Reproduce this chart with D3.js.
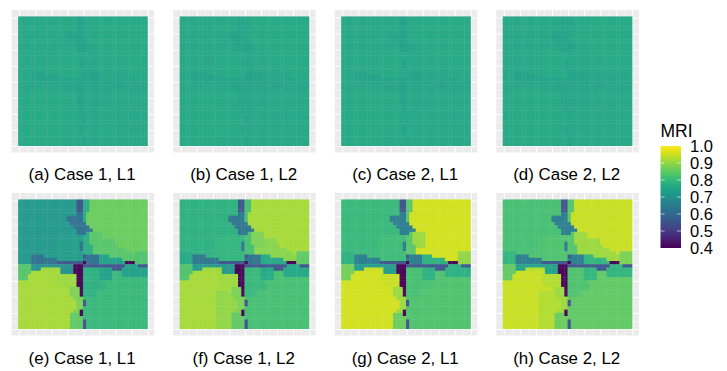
<!DOCTYPE html>
<html><head><meta charset="utf-8">
<script src="https://cdn.jsdelivr.net/npm/d3@7/dist/d3.min.js"></script>
<style>html,body{margin:0;padding:0;background:#fff}svg{display:block}text{font-family:"Liberation Sans",Arial,sans-serif;fill:#000}</style>
</head><body><svg id="c" width="727" height="371"></svg>
<script>
// Region map of the 40x40 grid, row by row (count + region letter).
const regionRows = [
"18T 2B 2G 18R","18T 2B 2G 18R","18T 2B 2G 18R","18T 2B 2G 18R","18T 2C 1G 19R",
"15T 5C 1G 19R","15T 5C 1G 19R","16T 5C 19R","17T 5C 18R","18T 5C 17R",
"18T 3C 1G 4S 14R","12T 8U 2G 4S 14R","12T 8U 2G 4S 4D 10R","11T 8U 1C 2G 4S 4D 10R","11T 8U 1C 3G 3S 5D 9R",
"11T 8U 1C 3G 10D 7R","4E 8T 8U 3G 12D 1R 4W","4E 4C 12U 1B 4C 3Q 8D 4W","4E 8C 8U 5C 7Q 4D 4W","4E 8C 8B 1A 4C 8Q 3A 4W",
"4L 13M 3A 13B 4O 3B","4L 3M 6Z 4M 3A 5P 4Q 3B 8O","4L 9Y 4M 3A 5P 4Q 3N 8O","3L 9Y 6Z 2A 5P 4Q 3N 8O","3L 9Y 6Z 2A 5P 4Q 11N",
"12Y 6Z 2A 6P 14N","13Y 5Z 2A 7P 13N","15Y 1Z 3V 1A 7P 13N","11Y 4X 1Z 3V 1A 4P 16N","11Y 5X 3V 1A 4P 16N",
"11Y 6X 3V 20N","11Y 7X 2V 1B 19N","11Y 7X 2V 1B 19N","11Y 7X 2V 20N","11Y 6X 2V 1A 20N",
"11Y 5X 3K 1A 20N","11Y 5X 4K 20N","11Y 5X 4K 1B 19N","11Y 5X 4K 1B 19N","11Y 5X 4K 1B 19N"
];
const regionKeys = ["T","U","R","S","G","Y","Z","V","N","P","O","Q","L","M","B","C","A","W","D","E","X","K"];
// MRI per region, one list per panel.
const mriA = [.758,.76,.76,.758,.755,.76,.76,.758,.758,.755,.755,.755,.758,.752,.74,.745,.74,.758,.758,.758,.76,.758];
const mriB = [.758,.76,.76,.758,.755,.76,.76,.758,.758,.755,.755,.755,.758,.752,.74,.745,.74,.758,.758,.758,.76,.758];
const mriC = [.758,.76,.76,.758,.755,.76,.76,.758,.758,.755,.755,.755,.758,.752,.74,.745,.74,.758,.758,.758,.76,.758];
const mriD = [.758,.76,.76,.758,.755,.76,.76,.758,.758,.755,.755,.755,.758,.752,.74,.745,.74,.758,.758,.758,.76,.758];
const mriE = [.72,.73,.86,.84,.77,.92,.91,.88,.80,.78,.74,.74,.84,.70,.55,.62,.40,.83,.84,.72,.92,.85];
const mriF = [.78,.79,.92,.88,.82,.92,.91,.88,.82,.80,.76,.76,.83,.72,.55,.63,.40,.85,.89,.76,.90,.85];
const mriG = [.80,.81,.96,.91,.84,.96,.95,.91,.83,.82,.78,.78,.87,.73,.55,.65,.40,.90,.96,.78,.96,.86];
const mriH = [.82,.83,.95,.91,.84,.95,.93,.91,.85,.83,.79,.79,.85,.74,.55,.65,.40,.88,.91,.79,.93,.86];
const panelValues = [mriA,mriB,mriC,mriD,mriE,mriF,mriG,mriH];
const panelCaptions = ["(a) Case 1, L1","(b) Case 1, L2","(c) Case 2, L1","(d) Case 2, L2","(e) Case 1, L1","(f) Case 1, L2","(g) Case 2, L1","(h) Case 2, L2"];
const legendTicks = [1.0,0.9,0.8,0.7,0.6,0.5,0.4];
const gridMajor = [0,5,10,15,20,25,30,35,40];
const gridMinor = [2.5,7.5,12.5,17.5,22.5,27.5,32.5,37.5];

const svg = d3.select("#c");
const color = d3.scaleSequential(d3.interpolateViridis).domain([0.4,1.0]);
const cells = regionRows.map(r => r.split(" ").flatMap(tok => {
  const n = parseInt(tok), k = tok.slice(-1);
  return Array(n).fill(k);
}));
const idx = d3.range(40);
const panelLeft = d3.scalePoint().domain([0,1,2,3]).range([11.7,496.3]);
const panelTop = d3.scalePoint().domain([0,1]).range([10,193]);
const panelSize = 142.5, inset = 6.45, capY = [180,364];

panelValues.forEach((vals,i) => {
  const col = i%4, row = i<4?0:1;
  const g = svg.append("g").attr("transform",`translate(${panelLeft(col)},${panelTop(row)})`);
  g.append("rect").attr("width",panelSize).attr("height",panelSize).attr("fill","#ebebeb");
  const x = d3.scaleBand().domain(idx).range([inset,panelSize-inset]);
  const y = d3.scaleBand().domain(idx).range([inset,panelSize-inset]);
  const gx = d3.scaleLinear().domain([0,40]).range([8,136.5]);
  const lines = g.append("g").attr("stroke","#fff");
  lines.selectAll(".minV").data(gridMinor).join("line").attr("x1",gx).attr("x2",gx).attr("y2",panelSize).attr("stroke-width",.5);
  lines.selectAll(".minH").data(gridMinor).join("line").attr("y1",gx).attr("y2",gx).attr("x2",panelSize).attr("stroke-width",.5);
  lines.selectAll(".majV").data(gridMajor).join("line").attr("x1",gx).attr("x2",gx).attr("y2",panelSize).attr("stroke-width",1);
  lines.selectAll(".majH").data(gridMajor).join("line").attr("y1",gx).attr("y2",gx).attr("x2",panelSize).attr("stroke-width",1);
  const lookup = new Map(regionKeys.map((k,j)=>[k,vals[j]]));
  const tiles = g.append("g").attr("opacity",0.96);
  cells.forEach((rowCells,r) => {
    tiles.selectAll(null).data(rowCells).join("rect")
      .attr("x",(d,c)=>x(c)).attr("y",y(r))
      .attr("width",(d,c)=>x.bandwidth()+(c<39?.4:0))
      .attr("height",y.bandwidth()+(r<39?.4:0))
      .attr("fill",d=>color(lookup.get(d)));
  });
  g.append("text").attr("x",panelSize/2-0.8).attr("y",capY[row]-panelTop(row)).attr("text-anchor","middle").attr("font-size",16.9).text(panelCaptions[i]);
});

// Legend
const defs = svg.append("defs");
const grad = defs.append("linearGradient").attr("id","vg").attr("x1",0).attr("x2",0).attr("y1",1).attr("y2",0);
grad.selectAll("stop").data(d3.range(0,1.01,.05)).join("stop").attr("offset",d=>d).attr("stop-color",d=>d3.interpolateViridis(d));
const ly = d3.scaleLinear().domain([0.4,1.0]).range([248,146]);
const leg = svg.append("g");
leg.append("text").attr("x",660.5).attr("y",136.5).attr("font-size",17.5).text("MRI");
leg.append("rect").attr("x",660.5).attr("y",ly(1)).attr("width",20.5).attr("height",ly(.4)-ly(1)).attr("fill","url(#vg)");
leg.selectAll(".t").data(legendTicks.filter(d=>d>.4&&d<1)).join(e=>{const g=e.append("g");
  g.append("line").attr("x1",660.5).attr("x2",664.6).attr("y1",ly).attr("y2",ly);
  g.append("line").attr("x1",676.9).attr("x2",681).attr("y1",ly).attr("y2",ly);
  g.attr("stroke","#fff").attr("stroke-width",.6);return g;});
leg.selectAll(".l").data(legendTicks).join("text").attr("x",690).attr("y",d=>ly(d)+6).attr("font-size",16.5).text(d=>d.toFixed(1));
</script></body></html>
